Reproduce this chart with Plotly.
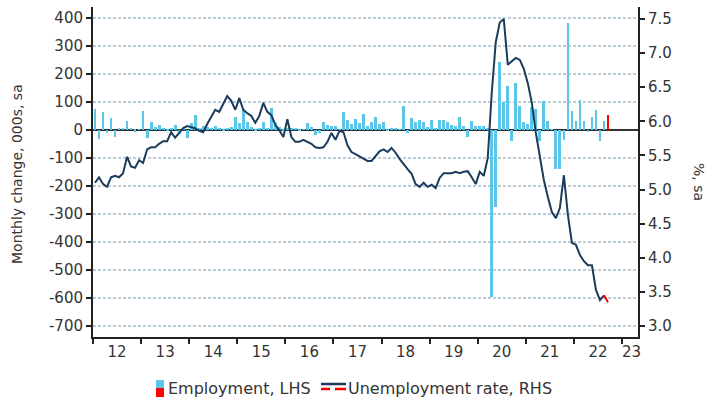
import plotly.graph_objects as go

# ---------------- data ----------------
start_year = 2012
years = [str(y)[2:] for y in range(2012, 2024)]

employment = [
    74, -33, 63, -12, 44, -24, 5, 6, 32, 4, -6, 3,          # 2012
    68, -30, 30, 10, 17, 5, -5, 8, 17, -15, 5, -28,         # 2013
    25, 53, 8, 15, 12, 8, 15, 5, -3, 8, 10, 48,             # 2014
    25, 72, 30, 10, -5, 8, 28, 5, 78, 25, 10, -5,           # 2015
    5, 5, 8, -5, 3, 25, 12, -18, -10, 28, 18, 15,           # 2016
    15, 3, 63, 35, 20, 40, 25, 58, 15, 30, 45, 20,          # 2017
    30, -3, 5, 5, 2, 85, -10, 42, 28, 35, 30, 10,           # 2018
    36, 5, 35, 35, 30, 18, 14, 48, 15, -26, 33, 15,         # 2019
    15, 15, 5, -597, -275, 243, 100, 157, -38, 168, 86, 30, # 2020
    20, 83, 75, -38, 105, 33, 3, -140, -140, -36, 381, 67,  # 2021
    33, 107, 33, -8, 45, 73, -40, 33, 55,                   # 2022
]

unemployment = [
    5.10, 5.18, 5.08, 5.04, 5.18, 5.20, 5.18, 5.24, 5.48, 5.34, 5.32, 5.43,  # 2012
    5.39, 5.59, 5.62, 5.62, 5.67, 5.71, 5.71, 5.84, 5.76, 5.83, 5.90, 5.93,  # 2013
    5.92, 5.90, 5.86, 5.84, 5.96, 6.06, 6.17, 6.14, 6.25, 6.37, 6.30, 6.17,  # 2014
    6.34, 6.17, 6.12, 6.08, 5.98, 6.08, 6.27, 6.14, 6.09, 5.95, 5.87, 5.77,  # 2015
    6.03, 5.77, 5.70, 5.70, 5.73, 5.70, 5.67, 5.62, 5.61, 5.62, 5.70, 5.83,  # 2016
    5.73, 5.86, 5.84, 5.65, 5.55, 5.52, 5.49, 5.46, 5.42, 5.42, 5.49, 5.56,  # 2017
    5.59, 5.55, 5.61, 5.54, 5.45, 5.37, 5.30, 5.23, 5.08, 5.04, 5.10, 5.04,  # 2018
    5.07, 5.02, 5.17, 5.24, 5.24, 5.24, 5.26, 5.24, 5.26, 5.27, 5.18, 5.08,  # 2019
    5.26, 5.20, 5.46, 6.42, 7.16, 7.45, 7.50, 6.83, 6.88, 6.93, 6.90, 6.77,  # 2020
    6.56, 6.27, 5.83, 5.49, 5.14, 4.89, 4.67, 4.58, 4.73, 5.21, 4.63, 4.22,  # 2021
    4.19, 4.04, 3.95, 3.89, 3.89, 3.53, 3.38, 3.45, 3.35,                    # 2022
]

left_ticks = list(range(-700, 500, 100))
right_ticks = [3.0, 3.5, 4.0, 4.5, 5.0, 5.5, 6.0, 6.5, 7.0, 7.5]

# ---------------- styling ----------------
n = len(employment)
x = [start_year + (i + 0.5) / 12 for i in range(n)]

BLUE = "#5cc6e8"
NAVY = "#1b3b5c"
RED = "#ff0000"
TXT = "#333333"
AX = "#222222"
GRID = "#bccdd8"
FONT = "DejaVu Sans"
FS = 15

bar_colors = [BLUE] * (n - 1) + [RED]

fig = go.Figure()
fig.add_trace(go.Bar(x=x, y=employment, marker=dict(color=bar_colors, line=dict(width=0)),
                     width=0.058, name="Employment, LHS", yaxis="y", showlegend=False))
fig.add_trace(go.Scatter(x=x[:-1], y=unemployment[:-1], mode="lines",
                         line=dict(color=NAVY, width=2), yaxis="y2",
                         name="Unemployment rate, RHS", showlegend=False))
fig.add_trace(go.Scatter(x=x[-2:], y=unemployment[-2:], mode="lines",
                         line=dict(color=RED, width=2), yaxis="y2", showlegend=False))

# plot area in pixels
L, R, T, B = 93, 638, 7, 337
W, H = 707, 403


def px(v):
    return (v - L) / (R - L)


def py(v):
    return (B - v) / (B - T)


label_pos = [y + 0.5 for y in range(2012, 2023)] + [2023.2]

fig.update_layout(
    width=W, height=H,
    margin=dict(l=L, r=W - R, t=T, b=H - B, pad=0),
    plot_bgcolor="white", paper_bgcolor="white",
    font=dict(family=FONT, size=FS, color=TXT),
    showlegend=False,
    bargap=0,
    xaxis=dict(
        range=[2012, 2023 + 16 / 48.09],
        tickmode="array", tickvals=label_pos, ticktext=years,
        ticks="", showline=True, linecolor=AX, linewidth=2,
        showgrid=False, zeroline=False,
        tickfont=dict(size=FS, color=TXT),
        minor=dict(tickmode="array", tickvals=list(range(2012, 2024)),
                   ticks="outside", ticklen=5, tickwidth=2, tickcolor=AX, showgrid=False),
    ),
    yaxis=dict(
        range=[-739, 439],
        tickmode="array", tickvals=left_ticks,
        ticktext=[("-" + str(abs(v))) if v < 0 else str(v) for v in left_ticks],
        ticks="outside", ticklen=5, tickwidth=2, tickcolor=AX,
        showline=True, linecolor=AX, linewidth=2,
        showgrid=True, gridcolor=GRID, gridwidth=1.5, griddash="3px,2px",
        zeroline=True, zerolinecolor="#333333", zerolinewidth=2,
        tickfont=dict(size=FS, color=TXT),
    ),
    yaxis2=dict(
        range=[2.839, 7.676], overlaying="y", side="right",
        tickmode="array", tickvals=right_ticks,
        ticktext=["%.1f" % v for v in right_ticks],
        ticks="outside", ticklen=5, tickwidth=2, tickcolor=AX,
        showline=True, linecolor=AX, linewidth=2,
        showgrid=False, zeroline=False,
        tickfont=dict(size=FS, color=TXT),
    ),
)

annotations = [
    dict(text="Monthly change, 000s, sa", x=px(17), y=py(174), xref="paper", yref="paper",
         textangle=-90, showarrow=False, font=dict(size=14, color=TXT),
         xanchor="center", yanchor="middle"),
    dict(text="%, sa", x=px(699), y=py(182), xref="paper", yref="paper",
         textangle=90, showarrow=False, font=dict(size=14, color=TXT),
         xanchor="center", yanchor="middle"),
    dict(text="Employment, LHS", x=px(166), y=py(388), xref="paper", yref="paper",
         showarrow=False, font=dict(size=16, color=TXT), xanchor="left", yanchor="middle"),
    dict(text="Unemployment rate, RHS", x=px(346), y=py(388), xref="paper", yref="paper",
         showarrow=False, font=dict(size=16, color=TXT), xanchor="left", yanchor="middle"),
]
fig.update_layout(annotations=annotations)

shapes = [
    dict(type="rect", xref="paper", yref="paper", x0=px(156), x1=px(164), y0=py(388), y1=py(380),
         fillcolor=BLUE, line=dict(width=0)),
    dict(type="rect", xref="paper", yref="paper", x0=px(156), x1=px(164), y0=py(397), y1=py(388),
         fillcolor=RED, line=dict(width=0)),
    dict(type="line", xref="paper", yref="paper", x0=px(321), x1=px(346), y0=py(384), y1=py(384),
         line=dict(color=NAVY, width=2.5)),
    dict(type="line", xref="paper", yref="paper", x0=px(321), x1=px(330), y0=py(389), y1=py(389),
         line=dict(color=RED, width=2.5)),
    dict(type="line", xref="paper", yref="paper", x0=px(335), x1=px(346), y0=py(389), y1=py(389),
         line=dict(color=RED, width=2.5)),
]
fig.update_layout(shapes=shapes)

fig.write_html("out.html", config={"displayModeBar": False},
               post_script="document.body.style.margin='0';document.body.style.overflow='hidden';")
